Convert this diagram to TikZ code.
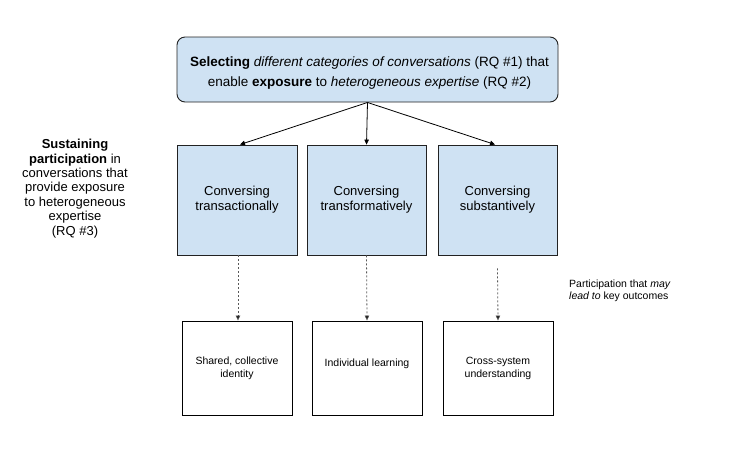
\documentclass[tikz,border=0pt]{standalone}
\usepackage{fontspec}
\setmainfont{Liberation Sans}
\usetikzlibrary{arrows.meta}
\definecolor{boxblue}{HTML}{CFE2F3}
\definecolor{edge}{HTML}{222222}
\begin{document}
\begin{tikzpicture}[x=1pt,y=-1pt,
  topbox/.style={draw=edge,fill=boxblue,rounded corners=8pt,line width=0.9pt,minimum width=381pt,minimum height=65pt,inner sep=0pt},
  toptext/.style={align=center,inner sep=0pt,font=\fontsize{13.5}{20}\selectfont},
  midbox/.style={draw=edge,fill=boxblue,line width=0.9pt,minimum height=110pt,align=center,inner sep=0pt,font=\fontsize{13}{15}\selectfont},
  outbox/.style={draw=black,fill=white,line width=0.9pt,minimum width=110pt,minimum height=94pt,align=center,inner sep=0pt,font=\fontsize{10.5}{13}\selectfont},
  solidarrow/.style={draw=black,line width=0.8pt,-{Triangle[length=5pt,width=4.5pt]}},
  dotarrow/.style={draw=black!65,line width=0.8pt,dash pattern=on 2pt off 2pt,-{Triangle[length=5pt,width=4.5pt,fill=black]}}
]
\useasboundingbox (0,0) rectangle (756,451);
\node[topbox] (top) at (367.5,69.5) {};
\node[toptext] (toptxt) at (369.5,73.5) {\textbf{Selecting} \textit{different categories of conversations} (RQ \#1) that\\enable \textbf{exposure} to \textit{heterogeneous expertise} (RQ \#2)};
\node[midbox,minimum width=120pt] (m1) at (237,200) {Conversing\\transactionally};
\node[midbox,minimum width=119pt] (m2) at (366.5,200) {Conversing\\transformatively};
\node[midbox,minimum width=119pt] (m3) at (497.5,200) {Conversing\\substantively};
\node[outbox] (b1) at (237,368) {\raisebox{-2pt}{Shared, collective}\\\raisebox{-2pt}{identity}};
\node[outbox] (b2) at (367,368) {\raisebox{-2pt}{Individual learning}\\\mbox{}};
\node[outbox] (b3) at (498,368) {\raisebox{-2pt}{Cross-system}\\\raisebox{-2pt}{understanding}};
\node[align=center,font=\fontsize{13}{14.4}\selectfont] (left) at (75,188.5) {\textbf{Sustaining}\\\textbf{participation} in\\conversations that\\provide exposure\\to heterogeneous\\expertise\\(RQ \#3)};
\node[align=left,anchor=west,inner sep=0pt,font=\fontsize{10.5}{12.5}\selectfont] (note) at (569,291) {Participation that \textit{may}\\\textit{lead to} key outcomes};
\draw[solidarrow] (top.south) -- ([xshift=3pt]m1.north);
\draw[solidarrow] (top.south) -- (m2.north);
\draw[solidarrow] (top.south) -- ([xshift=-2.5pt]m3.north);
\draw[dotarrow] ([xshift=1pt]m1.south) -- ([xshift=1pt]b1.north);
\draw[dotarrow] (m2.south) -- (b2.north);
\draw[dotarrow] ([yshift=-13pt]m3.south) -- (b3.north);
\end{tikzpicture}
\end{document}
